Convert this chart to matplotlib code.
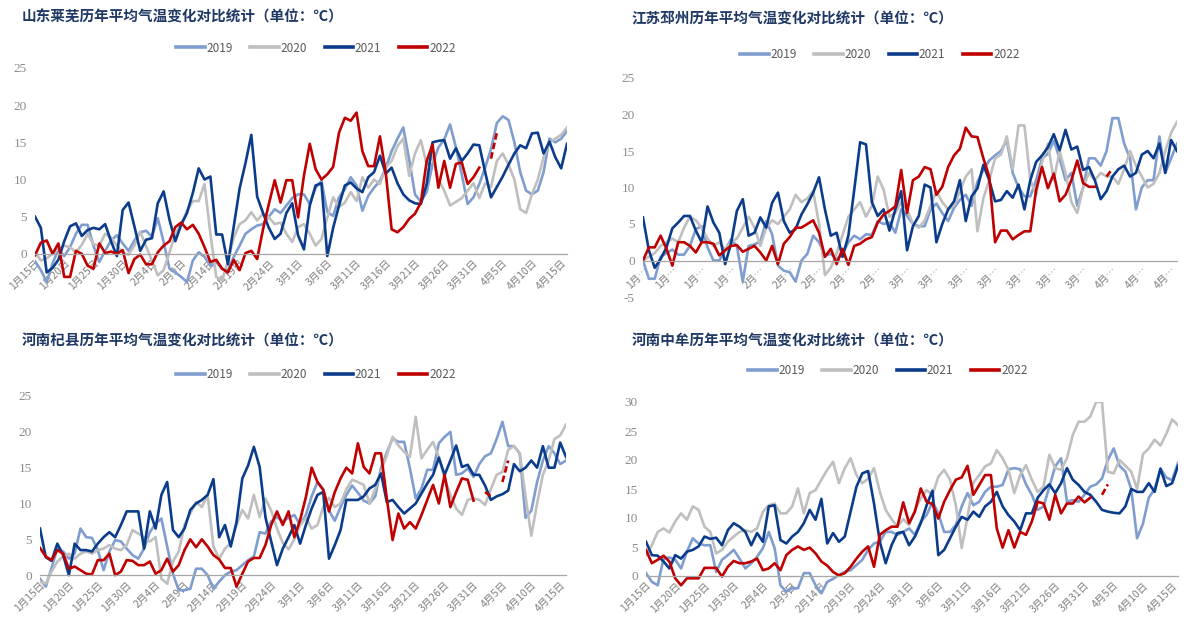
import numpy as np
import matplotlib
matplotlib.use("Agg")
import matplotlib.pyplot as plt
import pandas as pd

nan = np.nan

# ---------------- categories ----------------
dates = pd.date_range("2022-01-15", "2022-04-16")          # 92 daily categories
tick_idx = list(range(0, 91, 5))
tick_labels_full = [f"{dates[i].month}月{dates[i].day}日" for i in tick_idx]
tick_labels_short = [f"{dates[i].month}月…" for i in tick_idx]
years = ["2019", "2020", "2021", "2022"]

# ---------------- 山东莱芜 ----------------
laiwu_2019 = [-1.0, -2.2, -3.8, -1.3, 0.6, -0.3, 0.9, 2.7, 3.9, 3.9, 1.1, -1.1, 0.4, 1.8, 2.5, 1.4, 0.4, 1.8, 2.9, 3.1,
              2.3, 4.8, 1.6, -2.0, -2.5, -3.1, -3.8, -0.9, 0.2, -0.4, -1.6, -1.1, -2.0, -2.2, -0.4, 1.1, 2.7, 3.3, 3.8, 4.0,
              5.0, 6.0, 5.5, 6.5, 7.5, 8.0, 8.0, 6.7, 8.9, 9.8, 5.6, 5.1, 7.6, 8.7, 10.3, 9.2, 5.8, 7.8, 8.9, 9.8,
              11.6, 13.8, 15.5, 17.0, 12.7, 8.0, 7.0, 8.3, 12.1, 14.3, 15.4, 17.4, 14.3, 10.7, 6.7, 7.6, 9.4, 11.6, 14.1, 17.6,
              18.5, 18.0, 15.0, 11.0, 8.5, 8.0, 8.5, 11.0, 15.5, 15.0, 15.5, 16.5]
laiwu_2020 = [0.2, -0.9, -0.6, 0.0, 0.7, 1.1, 0.9, 0.2, 1.2, 2.7, 1.3, 1.1, 2.7, 2.2, 1.1, 0.2, -0.1, 1.1, 3.0, 1.0,
              -0.9, -2.9, -2.2, 0.2, 2.7, 4.0, 5.8, 7.1, 7.1, 9.4, 2.7, -3.1, -3.6, -0.9, 2.2, 4.0, 4.5, 5.6, 4.5, 5.4,
              4.9, 4.0, 4.2, 2.7, 1.6, 3.6, 4.0, 2.7, 1.1, 2.0, 4.9, 7.6, 6.3, 6.9, 8.3, 7.1, 10.3, 8.9, 10.0, 9.4,
              11.6, 12.5, 14.5, 15.5, 10.5, 13.5, 15.3, 12.0, 13.0, 10.0, 8.5, 6.5, 7.0, 7.5, 8.5, 9.5, 7.5, 9.5, 9.0, 12.5,
              13.5, 12.0, 10.0, 6.0, 5.5, 8.0, 10.0, 13.0, 15.0, 15.5, 16.0, 17.0]
laiwu_2021 = [5.0, 3.5, -2.5, -1.9, -0.8, 1.7, 3.7, 4.1, 2.4, 3.2, 3.5, 3.3, 4.0, 1.7, -0.3, 5.9, 6.9, 3.7, 0.4, 1.9,
              2.1, 6.8, 8.4, 4.6, 1.7, 3.9, 5.5, 8.2, 11.5, 10.0, 10.4, 2.6, 2.6, -1.4, 3.7, 8.8, 12.2, 16.0, 7.7, 5.5,
              3.5, 2.0, 2.7, 5.5, 6.8, 2.5, 0.6, 6.5, 9.2, 9.5, -0.3, 3.5, 6.5, 9.2, 9.6, 8.8, 8.3, 10.3, 11.0, 13.2,
              10.8, 11.6, 9.5, 8.0, 7.2, 6.8, 6.7, 9.4, 15.0, 15.2, 15.3, 12.8, 14.2, 12.5, 13.5, 14.7, 14.6, 11.0, 7.6, 9.0,
              10.4, 12.0, 13.5, 14.6, 14.2, 16.2, 16.3, 13.5, 15.1, 13.0, 11.5, 14.8]
laiwu_2022 = [-0.2, 1.5, 1.8, 0.0, 1.4, -3.1, -3.1, 0.4, 0.0, -1.6, -2.0, 1.4, 0.1, 0.3, 0.0, 0.5, -2.6, -0.7, -0.1, -1.4,
              -1.4, 0.2, 1.1, 1.7, 3.6, 4.2, 3.3, 3.9, 2.7, 0.9, -1.1, -0.8, -2.0, -2.5, -0.8, -2.2, 0.1, 0.4, -0.7, 3.3,
              6.7, 9.9, 6.9, 9.9, 9.9, 4.9, 10.5, 14.8, 11.4, 10.0, 10.7, 11.7, 16.3, 18.3, 17.9, 19.0, 13.8, 11.8, 11.8, 15.8,
              10.9, 3.3, 2.9, 3.6, 4.7, 5.4, 6.9, 12.5, 14.7, 8.9, 12.5, 8.9, 12.1, 12.3, 9.4, 10.3, 11.6, nan, 12.8, 16.3,
              nan, nan, nan, nan, nan, nan, nan, nan, nan, nan, nan, nan]

# ---------------- 江苏邳州 ----------------
pizhou_2019 = [0.0, -2.5, -2.5, 0.5, 1.0, 1.5, 0.8, 0.8, 2.0, 4.3, 4.7, 1.8, 0.0, 0.0, 1.4, 2.9, 2.0, -2.9, 2.0, 2.2,
               2.6, 5.4, 3.6, -0.7, -1.4, -1.6, -2.9, 0.0, 0.9, 3.4, 2.5, 0.7, 0.9, 0.2, 0.9, 2.5, 3.4, 2.9, 3.6,
               3.5, 5.4, 5.0, 5.2, 3.8, 7.0, 6.1, 5.0, 4.7, 4.7, 7.0, 7.8, 6.5, 5.4, 7.2, 8.3, 9.0, 7.5, 10.8, 12.4,
               13.7, 14.4, 15.0, 16.5, 12.0, 10.0, 8.8, 8.8, 11.0, 14.0, 14.6, 16.4, 14.0, 11.0, 12.0, 7.5, 10.0, 14.0, 14.0, 13.0,
               15.0, 19.5, 19.5, 16.0, 14.0, 7.0, 10.0, 11.0, 11.0, 17.0, 12.0, 14.0, 16.0]
pizhou_2020 = [0.0, 0.5, 1.0, 2.0, 2.5, 3.0, 2.5, 4.5, 6.0, 5.5, 4.5, 3.0, 2.0, 2.5, 1.5, 2.5, 3.0, 4.5, 6.0, 4.5,
               2.0, 4.5, 5.5, 5.0, 6.0, 7.0, 9.0, 8.0, 8.5, 9.5, 5.0, -2.0, -1.0, 1.0, 3.5, 6.0, 7.0, 8.0, 6.0, 7.5, 11.5,
               9.7, 6.0, 6.5, 8.0, 7.0, 5.0, 4.5, 5.5, 7.5, 9.5, 8.0, 7.0, 7.5, 9.5, 11.5, 12.5, 4.0, 8.5, 11.0, 14.0,
               14.5, 17.0, 12.5, 18.5, 18.5, 11.0, 9.0, 13.5, 16.0, 11.0, 15.0, 12.0, 8.0, 6.5, 10.0, 12.0, 11.0, 12.0, 11.5, 11.5,
               10.5, 12.5, 15.0, 13.0, 11.5, 10.0, 10.5, 12.0, 15.0, 17.5, 19.0]
pizhou_2021 = [5.9, 1.4, -1.0, 0.2, 1.8, 4.4, 5.2, 6.1, 6.1, 4.1, 2.5, 7.4, 5.2, 3.8, -0.5, 2.3, 6.8, 8.4, 3.4, 3.8,
               5.9, 4.5, 7.9, 9.3, 5.4, 3.8, 4.3, 6.3, 7.7, 9.3, 11.4, 7.0, 3.4, 3.8, 0.5, 3.4, 9.7, 16.2, 15.9, 8.0,
               6.1, 7.0, 4.1, 7.0, 9.5, 1.4, 4.7, 6.1, 10.4, 10.0, 2.5, 5.0, 7.0, 8.1, 11.0, 5.4, 8.8, 9.9, 13.1, 11.0,
               8.1, 8.3, 9.5, 8.6, 10.4, 7.0, 11.0, 13.5, 14.4, 15.5, 17.3, 15.1, 17.9, 15.2, 15.6, 12.4, 12.8, 11.0, 8.4, 9.5,
               11.5, 12.5, 13.0, 11.5, 12.0, 14.5, 15.0, 14.0, 16.0, 12.0, 16.5, 15.0]
pizhou_2022 = [0.0, 1.8, 1.8, 3.4, 1.6, -0.7, 2.5, 2.5, 2.0, 1.1, 2.5, 2.5, 2.3, 0.7, 1.4, 2.0, 2.1, 1.2, 1.6, 2.0,
               1.1, 0.0, 2.0, -0.5, 2.3, 3.2, 4.5, 4.5, 5.0, 5.5, 3.8, 0.5, 1.6, -0.5, 1.6, -0.6, 2.0, 2.3,
               2.9, 3.2, 5.2, 6.3, 6.8, 7.4, 12.4, 6.5, 11.0, 11.5, 12.8, 12.5, 9.0, 10.1, 12.8, 14.4, 15.3, 18.2, 17.0, 16.9,
               14.0, 11.5, 2.5, 4.1, 4.1, 2.9, 3.5, 4.0, 4.0, 9.7, 12.8, 9.9, 11.9, 8.1, 9.0, 11.0, 13.7, 10.6, 10.1, 10.1,
               nan, 11.5, 12.6, nan, nan, nan, nan, nan, nan, nan, nan, nan, nan, nan]

# ---------------- 河南杞县 ----------------
qixian_2019 = [-0.5, -1.6, 1.0, 3.7, 3.3, 2.3, 3.0, 6.5, 5.3, 5.2, 3.5, 0.7, 3.3, 4.9, 4.7, 3.7, 2.8, 2.3, 3.7, 6.0,
               7.2, 7.9, 4.0, 0.2, -2.1, -2.1, -1.9, 0.9, 0.9, 0.0, -1.9, -0.9, 0.0, 0.5, 0.7, 1.4, 2.1, 2.6, 6.0, 5.8,
               7.5, 8.1, 7.5, 8.0, 8.4, 7.0, 8.4, 11.0, 13.0, 12.0, 9.0, 7.6, 9.5, 11.2, 12.5, 11.5, 10.4, 10.0, 11.0, 15.0,
               17.1, 19.1, 18.6, 18.6, 14.9, 10.7, 12.1, 14.7, 14.7, 18.4, 19.3, 20.0, 14.0, 14.2, 14.9, 13.7, 15.5, 16.6, 17.0, 19.0,
               21.4, 18.0, 18.0, 17.0, 8.0, 9.0, 13.0, 16.0, 18.0, 17.0, 15.5, 16.0]
qixian_2020 = [-0.9, -1.2, 0.5, 1.9, 2.6, 3.0, 2.3, 3.0, 3.3, 3.0, 3.5, 3.7, 4.2, 3.7, 3.5, 4.2, 6.3, 5.8, 5.3, 4.7,
               5.3, -0.5, -1.2, 1.9, 3.3, 7.0, 8.6, 10.2, 9.5, 11.2, 4.0, 2.3, 3.7, 4.5, 7.0, 9.1, 7.9, 11.2, 8.1, 10.7,
               9.0, 6.5, 4.5, 3.6, 5.0, 7.0, 8.0, 6.5, 7.0, 9.5, 10.8, 9.5, 10.0, 12.0, 13.3, 13.0, 12.6, 10.0, 12.0, 14.5,
               16.7, 19.3, 18.1, 17.2, 16.5, 22.1, 16.3, 17.5, 18.6, 16.5, 13.5, 11.2, 9.3, 8.4, 10.5, 10.7, 10.5, 9.8, 12.0, 14.0,
               14.4, 17.5, 18.0, 17.0, 11.0, 5.5, 10.0, 14.0, 16.0, 19.0, 19.5, 21.0]
qixian_2021 = [6.5, 2.5, 2.0, 4.4, 2.8, 0.0, 4.4, 3.5, 3.5, 3.3, 4.4, 5.3, 6.0, 5.3, 7.0, 8.9, 8.9, 8.9, 3.7, 8.9,
               6.5, 11.2, 13.0, 6.3, 5.3, 6.5, 9.1, 10.0, 10.5, 11.2, 13.4, 5.3, 7.0, 4.0, 7.4, 13.5, 15.3, 17.9, 15.1, 8.1,
               4.7, 1.4, 3.7, 5.3, 7.0, 4.4, 7.0, 9.3, 11.2, 11.6, 2.3, 4.2, 6.3, 10.5, 10.5, 10.5, 11.0, 12.1, 12.6, 14.2,
               10.2, 10.5, 9.5, 8.6, 9.3, 10.0, 11.4, 12.8, 14.0, 16.4, 14.0, 16.0, 18.1, 15.1, 15.4, 14.0, 14.0, 12.5, 10.5, 11.0,
               11.3, 11.8, 15.5, 14.5, 15.0, 16.0, 15.0, 18.0, 15.0, 15.0, 18.5, 16.5]
qixian_2022 = [3.8, 2.6, 2.1, 3.5, 3.0, 0.9, 1.2, 0.7, 0.2, 0.1, 2.1, 2.1, 3.0, 0.0, 0.5, 2.1, 2.0, 1.4, 1.4, 1.9,
               0.2, 0.7, 2.3, 0.5, 1.4, 3.5, 5.0, 3.9, 5.0, 4.0, 2.8, 2.2, 1.0, 1.0, -1.6, 0.2, 1.9, 2.4, 2.4, 4.2,
               7.0, 8.9, 7.0, 8.9, 5.3, 7.7, 10.9, 15.0, 13.0, 11.9, 8.9, 11.6, 13.5, 15.0, 14.2, 18.4, 15.1, 14.2, 17.0, 17.0,
               10.7, 4.9, 8.6, 6.5, 7.4, 6.5, 8.4, 10.5, 12.6, 10.0, 14.0, 9.5, 11.6, 13.5, 13.3, 10.4, nan, 11.6, 11.0, nan,
               13.0, 16.0, nan, nan, nan, nan, nan, nan, nan, nan, nan, nan]

# ---------------- 河南中牟 ----------------
zhongmu_2019 = [0.5, -1.0, -1.6, 3.0, 3.2, 2.8, 1.3, 4.2, 6.5, 5.6, 5.3, 5.3, 0.7, 2.8, 3.6, 4.5, 3.0, 1.3, 2.2, 3.3,
                4.8, 7.6, 4.8, -1.6, -2.7, -2.1, -2.1, 0.5, 0.5, -1.6, -3.0, -1.0, -0.5, 0.2, 0.7, 1.0, 1.9, 2.8, 4.5, 5.6,
                5.9, 7.6, 7.6, 7.1, 7.6, 8.2, 7.1, 9.4, 10.5, 12.8, 10.8, 7.6, 7.6, 8.8, 12.0, 14.3, 12.2, 12.8, 14.5, 15.4,
                15.4, 15.7, 18.4, 18.6, 18.4, 15.8, 14.0, 11.4, 12.0, 15.4, 18.9, 20.3, 12.8, 13.1, 12.8, 14.0, 15.4, 15.8, 16.8, 20.0,
                22.0, 19.0, 18.0, 15.0, 6.5, 9.0, 13.5, 15.0, 18.5, 17.0, 16.5, 19.5]
zhongmu_2020 = [3.6, 5.3, 7.6, 8.2, 7.5, 9.4, 10.8, 9.7, 12.0, 11.4, 8.5, 7.6, 3.9, 4.5, 5.9, 6.8, 7.6, 7.9, 7.6, 8.2,
                11.1, 12.2, 12.5, 10.8, 10.8, 12.0, 15.1, 10.8, 14.3, 14.8, 16.6, 18.3, 19.7, 16.0, 18.6, 20.3, 17.4, 16.0, 16.8, 18.6,
                14.5, 11.4, 9.8, 8.5, 9.8, 8.8, 11.4, 13.4, 14.8, 14.0, 17.1, 18.3, 16.6, 12.2, 4.8, 10.2, 16.1, 17.4, 18.9, 19.4,
                21.7, 20.3, 18.3, 14.3, 17.4, 19.1, 16.6, 14.5, 15.4, 20.9, 18.6, 18.3, 20.3, 24.3, 26.6, 26.6, 27.5, 30.0, 30.0, 18.0,
                17.7, 20.0, 19.0, 18.0, 15.0, 21.0, 22.0, 23.5, 22.5, 24.5, 27.0, 26.0]
zhongmu_2021 = [5.9, 3.6, 3.5, 2.5, 1.3, 3.6, 3.0, 4.2, 4.5, 5.1, 6.8, 6.4, 6.6, 5.3, 7.9, 9.1, 8.5, 7.6, 5.3, 7.4,
                5.9, 12.0, 12.2, 6.2, 5.6, 6.8, 7.6, 9.1, 11.4, 9.7, 13.3, 5.6, 7.4, 5.9, 6.8, 11.1, 15.4, 17.7, 18.1, 12.5,
                5.9, 2.2, 5.3, 7.4, 7.6, 5.3, 6.8, 9.1, 12.2, 14.7, 3.6, 4.5, 6.5, 8.5, 10.2, 9.7, 11.1, 10.2, 12.0, 12.8,
                14.5, 12.0, 10.5, 9.4, 7.9, 10.8, 10.8, 13.5, 14.8, 15.8, 14.3, 16.0, 18.6, 16.6, 15.7, 14.5, 14.0, 12.8, 11.4, 11.1,
                10.9, 10.8, 12.0, 15.0, 14.5, 14.5, 16.0, 14.5, 18.5, 15.5, 16.0, 19.0]
zhongmu_2022 = [4.5, 2.2, 2.8, 3.5, 2.5, -0.4, -1.6, -0.4, -0.4, -0.4, 1.4, 1.4, 1.4, -0.1, 1.6, 2.6, 2.2, 2.2, 2.5, 3.0,
                1.0, 1.3, 2.2, 1.0, 3.6, 4.5, 5.1, 4.5, 4.9, 3.9, 2.5, 1.8, 0.7, 0.1, 0.5, 1.6, 3.0, 4.2, 5.1, 1.6,
                7.1, 7.9, 8.5, 8.5, 12.7, 9.1, 11.1, 15.1, 12.8, 12.4, 9.9, 12.8, 14.8, 16.6, 17.0, 19.0, 14.0, 15.7, 17.4, 17.4,
                8.2, 4.9, 7.9, 4.9, 7.6, 7.1, 9.4, 12.8, 12.5, 9.7, 14.0, 10.8, 12.5, 12.5, 13.7, 12.7, 13.5, nan, 14.0, 15.8,
                nan, nan, nan, nan, nan, nan, nan, nan, nan, nan, nan, nan]

# ---------------- styling ----------------
colors = {"2019": "#7F9DCE", "2020": "#BFBFBF", "2021": "#0B3C8C", "2022": "#C00000"}
plt.rcParams["font.family"] = ["Noto Sans CJK SC", "DejaVu Sans"]

W, H = 1190, 626
fig = plt.figure(figsize=(W / 100, H / 100), dpi=100)


def fx(px):
    return px / W


def fy(py):
    return 1 - py / H


panels = [
    dict(title="山东莱芜历年平均气温变化对比统计（单位：℃）",
         series=[laiwu_2019, laiwu_2020, laiwu_2021, laiwu_2022],
         box=(35, 567, 68, 291), ylim=(-5, 25), yticks=[0, 5, 10, 15, 20, 25],
         labels=tick_labels_full, title_xy=(22, 17), legend_xy=(316, 48)),
    dict(title="江苏邳州历年平均气温变化对比统计（单位：℃）",
         series=[pizhou_2019, pizhou_2020, pizhou_2021, pizhou_2022],
         box=(643, 1177, 78, 297), ylim=(-5, 25), yticks=[-5, 0, 5, 10, 15, 20, 25],
         labels=tick_labels_short, title_xy=(632, 18), legend_xy=(880, 55)),
    dict(title="河南杞县历年平均气温变化对比统计（单位：℃）",
         series=[qixian_2019, qixian_2020, qixian_2021, qixian_2022],
         box=(40, 566, 396, 611), ylim=(-5, 25), yticks=[0, 5, 10, 15, 20, 25],
         labels=tick_labels_full, title_xy=(22, 341), legend_xy=(316, 375)),
    dict(title="河南中牟历年平均气温变化对比统计（单位：℃）",
         series=[zhongmu_2019, zhongmu_2020, zhongmu_2021, zhongmu_2022],
         box=(646, 1178, 402, 605), ylim=(-5, 30), yticks=[0, 5, 10, 15, 20, 25, 30],
         labels=tick_labels_full, title_xy=(632, 341), legend_xy=(888, 371)),
]

x = np.arange(len(dates))

for p in panels:
    l, r, t, b = p["box"]
    ax = fig.add_axes([fx(l), fy(b), fx(r) - fx(l), fy(t) - fy(b)])
    handles = []
    for yr, vals in zip(years, p["series"]):
        v = np.array(vals, dtype=float)
        if yr == "2022":
            nan_idx = np.where(np.isnan(v))[0]
            k = nan_idx[0] if len(nan_idx) else len(v)
            h, = ax.plot(x[:k], v[:k], color=colors[yr], lw=1.9, solid_joinstyle="round", label=yr)
            ax.plot(x[k:], v[k:], color=colors[yr], lw=1.9, dashes=(2.5, 1.2))
        else:
            h, = ax.plot(x, v, color=colors[yr], lw=1.9, solid_joinstyle="round", label=yr)
        handles.append(h)

    ax.set_xlim(0, len(dates) - 1)
    ax.set_ylim(*p["ylim"])
    ax.set_yticks(p["yticks"])
    ax.set_yticklabels([str(t) for t in p["yticks"]], fontfamily="Liberation Serif",
                       fontsize=9.5, color="#8C8C8C")
    ax.tick_params(axis="y", length=0, pad=6)

    for s in ["top", "right", "left"]:
        ax.spines[s].set_visible(False)
    ax.spines["bottom"].set_position(("data", 0))
    ax.spines["bottom"].set_color("#A6A6A6")
    ax.spines["bottom"].set_linewidth(0.9)
    ax.set_xticks(tick_idx)
    ax.set_xticklabels(p["labels"], rotation=45, ha="right", rotation_mode="anchor",
                       fontsize=7.5, color="#808080")
    ax.tick_params(axis="x", length=0, pad=3)
    ax.set_facecolor("none")

    tx, ty = p["title_xy"]
    fig.text(fx(tx), fy(ty), p["title"], fontsize=10.5, fontweight="bold",
             color="#1F3864", va="center", ha="left")

    lx, ly = p["legend_xy"]
    leg = ax.legend(handles=handles, labels=years, loc="center", ncol=4,
                    bbox_to_anchor=(fx(lx), fy(ly)), bbox_transform=fig.transFigure,
                    frameon=False, fontsize=8.5, handlelength=2.4, handletextpad=0.15,
                    columnspacing=1.5)
    for txt in leg.get_texts():
        txt.set_color("#595959")
    for ln in leg.get_lines():
        ln.set_linewidth(2.6)

fig.savefig("out.png", dpi=100, facecolor="white")
